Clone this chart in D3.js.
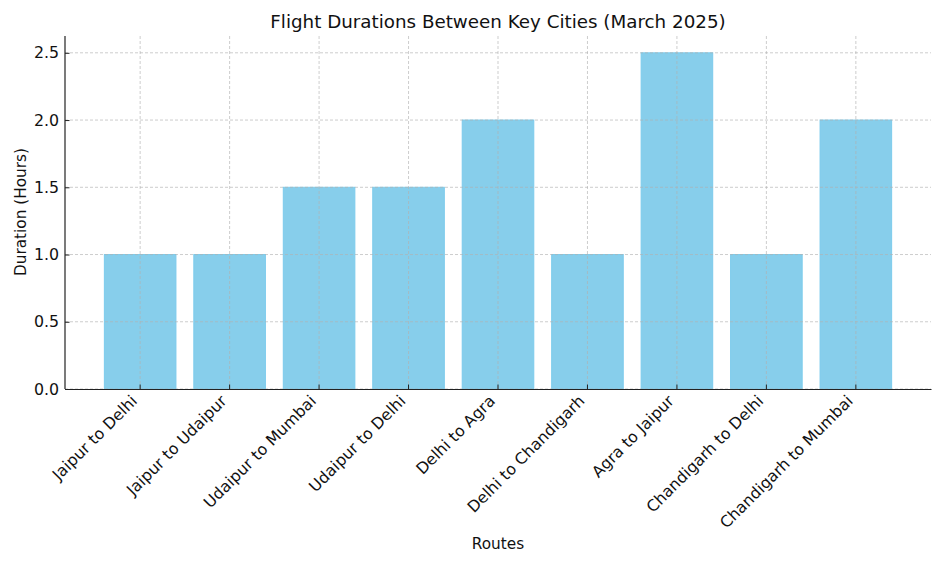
<!DOCTYPE html>
<html><head><meta charset="utf-8">
<script src="https://cdn.jsdelivr.net/npm/d3@7"></script>
<style>body{margin:0;background:#fff;} text{font-family:"DejaVu Sans",sans-serif;}</style>
</head><body>
<svg id="chart" width="945" height="567"></svg>
<script>
const routes = ["Jaipur to Delhi","Jaipur to Udaipur","Udaipur to Mumbai","Udaipur to Delhi","Delhi to Agra","Delhi to Chandigarh","Agra to Jaipur","Chandigarh to Delhi","Chandigarh to Mumbai"];
const durations = [1, 1, 1.5, 1.5, 2, 1, 2.5, 1, 2];
const yTicks = [0, 0.5, 1.0, 1.5, 2.0, 2.5];

const svg = d3.select("#chart");
const m = {left: 65, right: 931, top: 36, bottom: 389};
const x = d3.scaleBand().domain(routes).range([m.left, m.right]).paddingInner(0.2).paddingOuter(0.44);
const y = d3.scaleLinear().domain([0, 2.625]).range([m.bottom, m.top]);

// bars
svg.append("g").selectAll("rect").data(routes).join("rect")
  .attr("x", d => x(d)).attr("width", x.bandwidth())
  .attr("y", (d,i) => y(durations[i])).attr("height", (d,i) => y(0) - y(durations[i]))
  .attr("fill", "#87ceeb").attr("stroke", "#7ccbec").attr("stroke-width", 1);

// grid
const grid = svg.append("g").attr("stroke", "#b0b0b0").attr("stroke-opacity", 0.8).attr("stroke-dasharray", "3,2").attr("stroke-width", 0.8);
grid.selectAll("line.h").data(yTicks).join("line").attr("class","h")
  .attr("x1", m.left).attr("x2", m.right).attr("y1", d => y(d)).attr("y2", d => y(d));
grid.selectAll("line.v").data(routes).join("line").attr("class","v")
  .attr("y1", m.top).attr("y2", m.bottom).attr("x1", d => x(d)+x.bandwidth()/2).attr("x2", d => x(d)+x.bandwidth()/2);

// axes
const yAxis = d3.axisLeft(y).tickValues(yTicks).tickFormat(d3.format(".1f")).tickSizeInner(-4.5).tickSizeOuter(0).tickPadding(6);
const gy = svg.append("g").attr("transform", `translate(${m.left},0)`).call(yAxis);
gy.select(".domain").attr("stroke", "#222").attr("stroke-width", 1.2).attr("d", `M0,${m.top}V${m.bottom}`);
gy.selectAll(".tick line").attr("stroke", "#222");
gy.selectAll("text").attr("font-size", 15.8).attr("font-family", "DejaVu Sans").attr("fill", "#111");

const xAxis = d3.axisBottom(x).tickSizeInner(-4.5).tickSizeOuter(0).tickPadding(8);
const gx = svg.append("g").attr("transform", `translate(0,${m.bottom})`).call(xAxis);
gx.select(".domain").attr("stroke", "#222").attr("stroke-width", 1.2);
gx.selectAll(".tick line").attr("stroke", "#222");
gx.selectAll("text").attr("font-size", 15.8).attr("font-family", "DejaVu Sans").attr("fill", "#111")
  .attr("text-anchor", "end").attr("dy", "0").attr("y", 0).attr("x", 0).attr("transform", "translate(-2,13) rotate(-45)");

// labels
svg.append("text").attr("x", 498).attr("y", 28).attr("text-anchor", "middle").attr("font-size", 18.3).attr("fill", "#111").text("Flight Durations Between Key Cities (March 2025)");
svg.append("text").attr("x", 498).attr("y", 549).attr("text-anchor", "middle").attr("font-size", 15.3).attr("fill", "#111").text("Routes");
svg.append("text").attr("transform", "translate(26,212) rotate(-90)").attr("text-anchor", "middle").attr("font-size", 15.3).attr("fill", "#111").text("Duration (Hours)");
</script>
</body></html>
